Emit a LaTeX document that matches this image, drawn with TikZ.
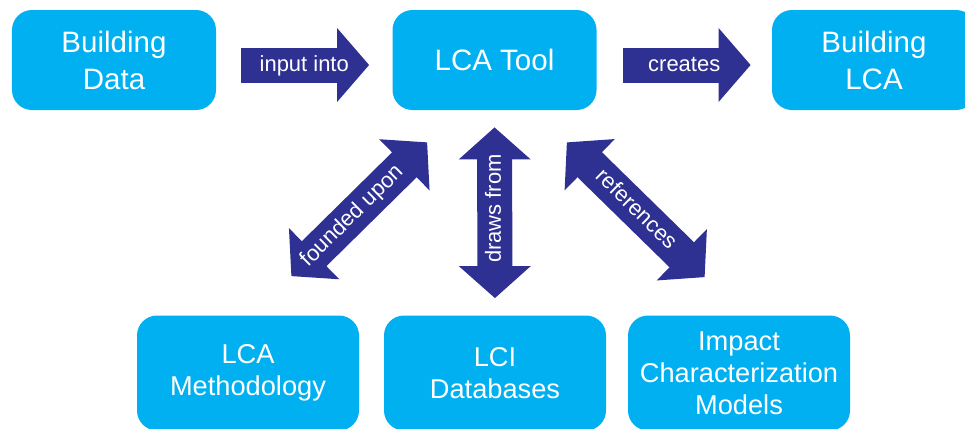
\documentclass[tikz,border=0pt]{standalone}
\usepackage{fontspec}
\setmainfont{Liberation Sans}
\usetikzlibrary{calc}
\usetikzlibrary{arrows.meta}
\definecolor{boxblue}{RGB}{0,176,240}
\definecolor{arrowblue}{RGB}{46,49,146}
\tikzset{
  topbox/.style={draw=none,fill=boxblue,text=white,rounded corners=0.4cm,
    minimum width=4.08cm,minimum height=2cm,align=center,
    font=\fontsize{16.8}{21}\selectfont},
  botbox/.style={topbox,minimum width=4.44cm,minimum height=2.3cm,
    font=\fontsize{15.5}{18.2}\selectfont},
  fatarrow/.style={draw=arrowblue,line width=0.7cm,
    -{Triangle[length=0.64cm,width=1.44cm]}},
  fatboth/.style={fatarrow,
    {Triangle[length=0.64cm,width=1.40cm]}-{Triangle[length=0.64cm,width=1.40cm]}},
  arrowtext/.style={text=white,font=\fontsize{12.5}{14}\selectfont,
    text height=1.6ex,text depth=0.3ex}
}
\begin{document}
\begin{tikzpicture}
\useasboundingbox (0,0) rectangle (19.3,8.56);
\node[topbox] (data) at (2.28,7.36) {Building\\Data}; %top row
\node[topbox] (tool) at (9.89,7.36) {LCA Tool};
\node[topbox] (blca) at (17.48,7.36) {Building\\LCA};
\node[botbox] (meth) at (4.96,1.1) {LCA\\Methodology}; %bottom row
\node[botbox] (lci) at (9.9,1.1) {LCI\\Databases};
\node[botbox] (imp) at (14.78,1.1) {Impact\\Characterization\\Models};
\draw[fatarrow,shorten <=0.5cm,shorten >=0.46cm] ($(data.east)+(0,-0.1)$) -- ($(tool.west)+(0,-0.1)$)
  node[arrowtext,midway] {input into}; %input arrow
\draw[fatarrow,shorten <=0.52cm,shorten >=0.42cm] ($(tool.east)+(0,-0.1)$) -- ($(blca.west)+(0,-0.1)$)
  node[arrowtext,midway] {creates};
\draw[fatboth,shorten <=0.34cm,shorten >=0.34cm] (lci.north) -- (tool.south)
  node[arrowtext,pos=0.52,rotate=90] {draws from}; %database arrow
\draw[fatboth] ($(meth.north east)+(-1.36,0.78)$) -- ($(tool.south west)+(0.7,-0.64)$)
  node[arrowtext,pos=0.45,sloped] {founded upon};
\draw[fatboth] ($(tool.south east)+(-0.6,-0.64)$) -- ($(imp.north west)+(1.54,0.76)$)
  node[arrowtext,midway,sloped] {references};
\end{tikzpicture}
\end{document}
